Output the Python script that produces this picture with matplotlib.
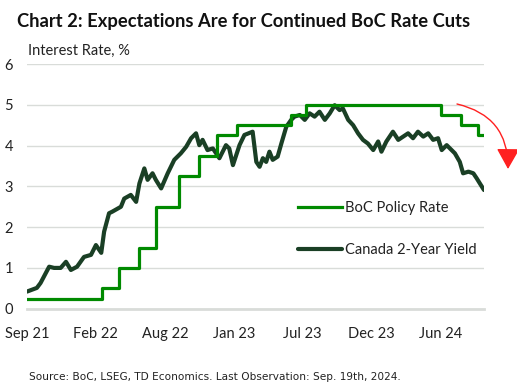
import matplotlib
matplotlib.use('Agg')
import matplotlib.pyplot as plt
import matplotlib.dates as mdates
from matplotlib.patches import FancyArrowPatch
import pandas as pd

plt.rcParams['font.family'] = ['Lato', 'DejaVu Sans']

# BoC policy rate, decision dates
policyDates = ['2021-09-01', '2022-03-02', '2022-04-13', '2022-06-01', '2022-07-13',
               '2022-09-07', '2022-10-26', '2022-12-07', '2023-01-25', '2023-06-07',
               '2023-07-12', '2024-06-05', '2024-07-24', '2024-09-04', '2024-09-19']
policyRate = [0.25, 0.50, 1.00, 1.50, 2.50, 3.25, 3.75, 4.25, 4.50, 4.75,
              5.00, 4.75, 4.50, 4.25, 4.25]

# Canada 2-year yield
yieldDates = ['2021-09-01', '2021-09-25', '2021-10-04', '2021-10-25', '2021-11-06',
              '2021-11-22', '2021-12-05', '2021-12-17', '2022-01-01', '2022-01-18',
              '2022-02-04', '2022-02-16', '2022-03-01', '2022-03-08', '2022-03-20',
              '2022-03-28', '2022-04-18', '2022-04-26', '2022-05-12', '2022-05-25',
              '2022-06-02', '2022-06-14', '2022-06-22', '2022-07-04', '2022-07-12',
              '2022-07-25', '2022-08-10', '2022-08-26', '2022-09-11', '2022-09-24',
              '2022-10-06', '2022-10-18', '2022-10-26', '2022-11-03', '2022-11-15',
              '2022-11-28', '2022-12-14', '2022-12-30', '2023-01-07', '2023-01-16',
              '2023-02-01', '2023-02-13', '2023-03-05', '2023-03-14', '2023-03-22',
              '2023-03-30', '2023-04-07', '2023-04-15', '2023-04-23', '2023-05-05',
              '2023-05-14', '2023-05-26', '2023-06-07', '2023-06-15', '2023-06-28',
              '2023-07-10', '2023-07-22', '2023-08-03', '2023-08-15', '2023-08-28',
              '2023-09-09', '2023-09-21', '2023-10-03', '2023-10-11', '2023-10-24',
              '2023-11-05', '2023-11-17', '2023-11-29', '2023-12-11', '2023-12-24',
              '2024-01-05', '2024-01-13', '2024-01-25', '2024-02-10', '2024-02-23',
              '2024-03-06', '2024-03-18', '2024-03-30', '2024-04-11', '2024-04-24',
              '2024-05-06', '2024-05-18', '2024-05-30', '2024-06-08', '2024-06-20',
              '2024-06-28', '2024-07-10', '2024-07-22', '2024-07-30', '2024-08-12',
              '2024-08-24', '2024-09-01', '2024-09-09', '2024-09-19']
yieldValues = [0.42, 0.51, 0.63, 1.03, 1.00, 1.00, 1.15, 0.95, 1.03, 1.27,
               1.32, 1.56, 1.37, 1.89, 2.34, 2.38, 2.50, 2.70, 2.79, 2.62,
               3.07, 3.44, 3.16, 3.32, 3.16, 2.95, 3.32, 3.65, 3.81, 3.97,
               4.18, 4.30, 4.01, 4.14, 3.89, 3.93, 3.69, 4.01, 3.93, 3.52,
               4.01, 4.26, 4.34, 3.60, 3.48, 3.69, 3.60, 3.85, 3.65, 3.73,
               4.05, 4.46, 4.63, 4.71, 4.75, 4.63, 4.79, 4.71, 4.83, 4.63,
               4.79, 4.99, 4.87, 4.91, 4.63, 4.50, 4.30, 4.14, 4.05, 3.89,
               4.10, 3.85, 4.10, 4.34, 4.14, 4.22, 4.30, 4.18, 4.34, 4.22,
               4.30, 4.14, 4.18, 3.89, 4.01, 3.93, 3.81, 3.60, 3.32, 3.36,
               3.32, 3.20, 3.07, 2.91]

policyColor = '#008a00'
yieldColor = '#1a3f25'
gridColor = '#d9dcd9'

fig = plt.figure(figsize=(5.17, 3.85), dpi=100)
ax = fig.add_axes([27 / 517, 1 - 308.7 / 385, 457 / 517, 244.7 / 385])

pDates = pd.to_datetime(policyDates)
yDates = pd.to_datetime(yieldDates)

lineYield, = ax.plot(yDates, yieldValues, color=yieldColor, lw=3.0,
                     solid_capstyle='round', solid_joinstyle='round',
                     label='Canada 2-Year Yield', zorder=3)
linePolicy, = ax.step(pDates, policyRate, where='post', color=policyColor, lw=2.3,
                      label='BoC Policy Rate', zorder=4)

start = pd.Timestamp('2021-09-01')
ax.set_xlim(start, pd.Timestamp('2024-09-19'))
ax.set_ylim(0, 6)

ticks = [start + pd.Timedelta(days=168 * k) for k in range(7)]
ax.set_xticks(ticks)
ax.xaxis.set_major_formatter(mdates.DateFormatter('%b %y'))
ax.set_yticks(range(0, 7))

for s in ['top', 'right', 'left']:
    ax.spines[s].set_visible(False)
ax.spines['bottom'].set_color(gridColor)
ax.spines['bottom'].set_linewidth(2)
ax.grid(axis='y', color=gridColor, lw=1)
ax.set_axisbelow(True)
ax.tick_params(axis='both', length=0, labelsize=10.5, colors='#222222')
ax.tick_params(axis='x', pad=13)
ax.tick_params(axis='y', pad=10)

leg = ax.legend(handles=[linePolicy, lineYield], frameon=False, fontsize=10.5,
                loc='center left', bbox_to_anchor=(298 / 517, 1 - 229 / 385),
                bbox_transform=fig.transFigure, borderpad=0, borderaxespad=0,
                handlelength=3.0, handletextpad=0.2, labelspacing=1.9)
for t in leg.get_texts():
    t.set_color('#222222')

fig.text(17 / 517, 1 - 27 / 385, 'Chart 2: Expectations Are for Continued BoC Rate Cuts',
         fontsize=13.2, fontweight='bold', color='#111111', va='baseline')
fig.text(28 / 517, 1 - 55 / 385, 'Interest Rate, %', fontsize=10.5, color='#222222',
         va='baseline')
fig.text(29 / 517, 1 - 380 / 385,
         'Source: BoC, LSEG, TD Economics. Last Observation: Sep. 19th, 2024.',
         fontsize=7.6, family='DejaVu Sans', color='#222222', va='baseline')

arrow = FancyArrowPatch((457 / 517, 1 - 104 / 385), (508 / 517, 1 - 169 / 385),
                        transform=fig.transFigure, connectionstyle='arc3,rad=-0.4',
                        arrowstyle='-|>,head_length=8,head_width=4.5',
                        color='#ff2020', lw=1.0, mutation_scale=1.6,
                        shrinkA=0, shrinkB=0)
fig.patches.append(arrow)

fig.savefig('out.png', dpi=100)
